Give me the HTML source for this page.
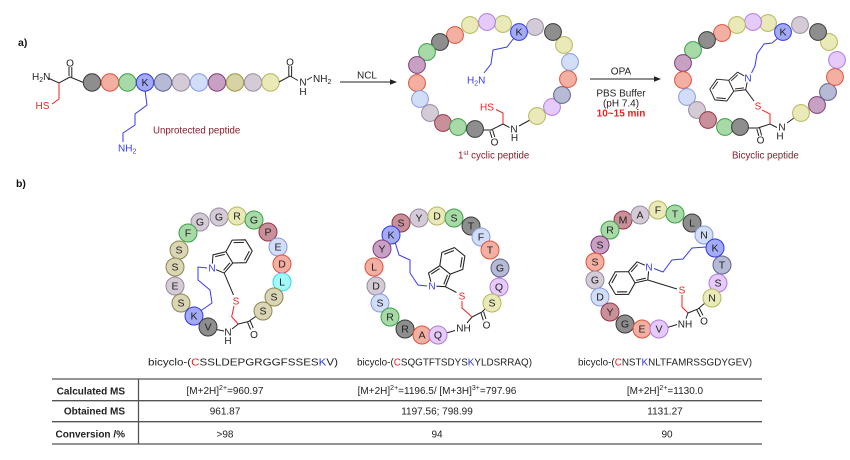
<!DOCTYPE html>
<html><head><meta charset="utf-8">
<style>
html,body{margin:0;padding:0;background:#fff;width:850px;height:460px;overflow:hidden}
svg{display:block}
.gy{fill:#8e8e8e;stroke:#3a3a3a}
.sa{fill:#f3b0a2;stroke:#e0503a}
.gr{fill:#a8daa8;stroke:#3aa046}
.bl{fill:#a3aaf7;stroke:#2d38e6}
.sl{fill:#b6bad5;stroke:#5c628a}
.lv{fill:#d5cbd7;stroke:#978ba2}
.lb{fill:#d2ddf8;stroke:#869ae2}
.pu{fill:#c8a0c3;stroke:#7e3c79}
.mr{fill:#c8909a;stroke:#983444}
.ye{fill:#eaeab8;stroke:#b6b65c}
.kh{fill:#d8d3a4;stroke:#9c963e}
.li{fill:#e6cafa;stroke:#ae7ae6}
.ol{fill:#dad6b5;stroke:#8a864e}
.cy{fill:#a2fafa;stroke:#38d4e2}
circle{stroke-width:1}
.L{font-size:10.5px;text-anchor:middle;fill:#222}
.bk{fill:none;stroke:#222;stroke-width:1}
.rd{fill:none;stroke:#f02020;stroke-width:1}
.bu{fill:none;stroke:#3a3af0;stroke-width:1}
.t{font-size:10px;fill:#222}
</style></head><body>
<svg width="850" height="460" viewBox="0 0 850 460" font-family="Liberation Sans, Arial, sans-serif">
<defs>
<g id="iso">
<path d="M-18.46,-6 L-18.46,6 L-28.85,12 L-39.24,6 L-39.24,-6 L-28.85,-12 Z M-18.46,-6 L-7.05,-9.7 L0,0 L-7.05,9.7 L-18.46,6 M-28.85,9.36 L-36.95,4.68 M-36.95,-4.68 L-28.85,-9.36 M-7.84,-7.28 L-16.4,-4.5 M-7.84,7.28 L-16.4,4.5" fill="none" stroke="#222" stroke-width="0.95"/>
</g>
</defs>

<!-- ========== a) ========== -->
<text x="18" y="46" font-size="10.5" font-weight="bold" fill="#111">a)</text>

<!-- linear peptide -->
<text x="32" y="80" class="t">H<tspan font-size="7" dy="2">2</tspan><tspan dy="-2">N</tspan></text>
<path class="bk" d="M48,78 L59,83 L70,77 M69,76 L69,67 M71.8,77 L71.8,67 M70,77 L83.5,82.5"/>
<text x="70" y="66.5" class="t" text-anchor="middle">O</text>
<path class="rd" d="M59,83 L59,99 L52,104"/>
<text x="35.5" y="109" font-size="10" fill="#f02020">HS</text>

<path class="bu" d="M145,90 L147,105 L135,114 L135,125 L123,133 L123,142"/>
<text x="118" y="151.5" font-size="10" fill="#3a3af0">NH<tspan font-size="7" dy="2">2</tspan></text>

<circle cx="92" cy="82.5" r="8.7" class="gy"/>
<circle cx="110" cy="82.5" r="8.7" class="sa"/>
<circle cx="127.5" cy="82.5" r="8.7" class="gr"/>
<circle cx="145" cy="82.5" r="8.7" class="bl"/>
<text x="145" y="86" class="L" font-size="9.5">K</text>
<circle cx="163" cy="82.5" r="8.7" class="sl"/>
<circle cx="181" cy="82.5" r="8.7" class="lv"/>
<circle cx="199" cy="82.5" r="8.7" class="lb"/>
<circle cx="217" cy="82.5" r="8.7" class="pu"/>
<circle cx="235" cy="82.5" r="8.7" class="kh"/>
<circle cx="253" cy="82.5" r="8.7" class="lv"/>
<circle cx="270.5" cy="82.5" r="8.7" class="ye"/>

<path class="bk" d="M279,82 L290,76 M288.8,76 L288.8,66 M291.6,76.5 L291.6,66 M290,76 L298,80.5 M307,80 L312,77"/>
<text x="290" y="65.5" class="t" text-anchor="middle">O</text>
<text x="303" y="85.5" class="t" text-anchor="middle">N</text>
<text x="303" y="95" class="t" text-anchor="middle">H</text>
<text x="313" y="82" class="t">NH<tspan font-size="7" dy="2">2</tspan></text>

<text x="153" y="133.5" font-size="9.7" fill="#8b1c2c">Unprotected peptide</text>

<!-- arrow NCL -->
<line x1="340" y1="82" x2="392" y2="82" stroke="#222" stroke-width="1"/>
<polygon points="397,82 390,79.3 390,84.7" fill="#222"/>
<text x="367" y="78.5" class="t" text-anchor="middle">NCL</text>

<!-- ring 2 -->
<path class="bu" d="M514,38 L507,47 L493,50 L491,64 L484,73"/>
<text x="467" y="83.5" font-size="10" fill="#3a3af0">H<tspan font-size="7" dy="2">2</tspan><tspan dy="-2">N</tspan></text>
<path class="bk" d="M483,130 L491,130 L503,124 L509.5,127.5 M519,126 L530,120 M489.8,131 L492,138 M492.6,130 L494.8,137"/>
<text x="494.5" y="145.5" class="t" text-anchor="middle">O</text>
<text x="514" y="132.5" class="t" text-anchor="middle">N</text>
<text x="514.5" y="141" class="t" text-anchor="middle">H</text>
<path class="rd" d="M503,124 L503,113 L496,109.5"/>
<text x="487" y="110.5" font-size="10" fill="#f02020" text-anchor="middle">HS</text>

<circle cx="537" cy="116" r="8.4" class="ye"/>
<circle cx="552" cy="107" r="8.4" class="li"/>
<circle cx="562" cy="95" r="8.4" class="sl"/>
<circle cx="568" cy="79" r="8.4" class="sa"/>
<circle cx="570" cy="62" r="8.4" class="lb"/>
<circle cx="564" cy="45" r="8.4" class="ye"/>
<circle cx="553" cy="32" r="8.4" class="gy"/>
<circle cx="535" cy="27" r="8.4" class="lv"/>
<circle cx="503" cy="24" r="8.4" class="ye"/>
<circle cx="487" cy="22" r="8.4" class="li"/>
<circle cx="470" cy="25" r="8.4" class="ye"/>
<circle cx="455" cy="35" r="8.4" class="sa"/>
<circle cx="440" cy="42" r="8.4" class="gy"/>
<circle cx="427" cy="52" r="8.4" class="gr"/>
<circle cx="417" cy="65" r="8.4" class="pu"/>
<circle cx="417" cy="83" r="8.4" class="sa"/>
<circle cx="420" cy="99" r="8.4" class="lb"/>
<circle cx="430" cy="113" r="8.4" class="lv"/>
<circle cx="443" cy="123" r="8.4" class="mr"/>
<circle cx="458" cy="127" r="8.4" class="gr"/>
<circle cx="475" cy="129" r="8.4" class="gy"/>
<circle cx="519" cy="32" r="8.4" class="bl"/>
<text x="519" y="35.5" class="L" font-size="9.5">K</text>

<text x="458" y="158.5" font-size="9.7" fill="#8b1c2c">1<tspan font-size="6.5" dy="-3.5">st</tspan><tspan dy="3.5"> cyclic peptide</tspan></text>

<!-- arrow OPA -->
<line x1="590" y1="79" x2="656" y2="79" stroke="#222" stroke-width="1"/>
<polygon points="661,79 654,76.3 654,81.7" fill="#222"/>
<text x="621" y="74.5" class="t" text-anchor="middle">OPA</text>
<text x="621" y="96.5" class="t" text-anchor="middle">PBS Buffer</text>
<text x="621" y="106.5" class="t" text-anchor="middle">(pH 7.4)</text>
<text x="621" y="116.5" font-size="10" font-weight="bold" fill="#f02020" text-anchor="middle">10~15 min</text>

<!-- ring 3 -->
<use href="#iso" transform="translate(748,78) rotate(-24.8)"/>
<path class="bu" d="M778,38 L772,43 L764,44 L757,54 L755,66 L751.5,73"/>
<circle cx="748" cy="78" r="4.5" fill="#fff"/>
<text x="748" y="81.5" font-size="10" fill="#3a3af0" text-anchor="middle">N</text>
<path class="bk" d="M745.7,89.8 L754,101"/>
<text x="758" y="109.5" font-size="10" fill="#f02020" text-anchor="middle">S</text>
<path class="rd" d="M762,110 L770,114 L770,124"/>
<path class="bk" d="M748,128 L758,128 L770,124 L777,127.5 M787,123 L794,118 M756.8,129 L758.8,136 M759.6,128 L761.6,135.5"/>
<text x="760.5" y="143.5" class="t" text-anchor="middle">O</text>
<text x="782" y="130.5" class="t" text-anchor="middle">N</text>
<text x="780" y="139.5" class="t" text-anchor="middle">H</text>

<circle cx="801" cy="113" r="8.4" class="ye"/>
<circle cx="817" cy="105" r="8.4" class="pu"/>
<circle cx="828" cy="92" r="8.4" class="sl"/>
<circle cx="835" cy="77" r="8.4" class="sa"/>
<circle cx="837" cy="60" r="8.4" class="li"/>
<circle cx="829" cy="42" r="8.4" class="ye"/>
<circle cx="818" cy="32" r="8.4" class="gy"/>
<circle cx="800" cy="25" r="8.4" class="lv"/>
<circle cx="768" cy="23" r="8.4" class="ye"/>
<circle cx="753" cy="22" r="8.4" class="li"/>
<circle cx="737" cy="25" r="8.4" class="ye"/>
<circle cx="722" cy="33" r="8.4" class="sa"/>
<circle cx="707" cy="40" r="8.4" class="gy"/>
<circle cx="693" cy="50" r="8.4" class="gr"/>
<circle cx="683" cy="63" r="8.4" class="pu"/>
<circle cx="683" cy="80" r="8.4" class="sa"/>
<circle cx="687" cy="97" r="8.4" class="lb"/>
<circle cx="697" cy="110" r="8.4" class="lv"/>
<circle cx="708" cy="120" r="8.4" class="mr"/>
<circle cx="725" cy="127" r="8.4" class="gr"/>
<circle cx="740" cy="127" r="8.4" class="gy"/>
<circle cx="783" cy="32" r="8.4" class="bl"/>
<text x="783" y="35.5" class="L" font-size="9.5">K</text>

<text x="732" y="158.5" font-size="9.7" fill="#8b1c2c">Bicyclic peptide</text>

<!-- ========== b) ========== -->
<text x="16" y="187" font-size="10.5" font-weight="bold" fill="#111">b)</text>

<!-- structure 1 -->
<use href="#iso" transform="translate(212,268) rotate(148.5) scale(1.1,-1.1)"/>
<path class="bu" d="M199,312 L212,303 L210,290 L198,280 L198,267 L207,268"/>
<circle cx="212" cy="268" r="4.5" fill="#fff"/>
<text x="212" y="271.5" font-size="10" fill="#3a3af0" text-anchor="middle">N</text>
<path class="bk" d="M224.2,273.1 L233.5,295"/>
<text x="236" y="304.5" font-size="10" fill="#f02020" text-anchor="middle">S</text>
<path class="rd" d="M234,306 L231.7,316.7 L238.3,324"/>
<path class="bk" d="M216.5,329.5 L224,331 M238.3,324 L232,329 M238.3,324 L248.5,321.5 L256.5,316 M247.6,322.4 L250.6,329.5 M250.2,320.8 L253.2,328"/>
<text x="228" y="335.5" class="t" text-anchor="middle">N</text>
<text x="228" y="344" class="t" text-anchor="middle">H</text>
<text x="254" y="338" class="t" text-anchor="middle">O</text>

<circle cx="200" cy="222" r="9" class="lv"/><text x="200" y="225.7" class="L">G</text>
<circle cx="219" cy="217" r="9" class="lv"/><text x="219" y="220.7" class="L">G</text>
<circle cx="237" cy="216" r="9" class="ye"/><text x="237" y="219.7" class="L">R</text>
<circle cx="254" cy="220" r="9" class="gr"/><text x="254" y="223.7" class="L">G</text>
<circle cx="268" cy="232" r="9" class="mr"/><text x="268" y="235.7" class="L">P</text>
<circle cx="278" cy="247" r="9" class="lb"/><text x="278" y="250.7" class="L">E</text>
<circle cx="282" cy="264" r="9" class="sa"/><text x="282" y="267.7" class="L">D</text>
<circle cx="282" cy="282" r="9" class="cy"/><text x="282" y="285.7" class="L">L</text>
<circle cx="274" cy="297" r="9" class="ol"/><text x="274" y="300.7" class="L">S</text>
<circle cx="263" cy="311" r="9" class="ol"/><text x="263" y="314.7" class="L">S</text>
<circle cx="188" cy="233" r="9" class="gr"/><text x="188" y="236.7" class="L">F</text>
<circle cx="179" cy="250" r="9" class="ol"/><text x="179" y="253.7" class="L">S</text>
<circle cx="175" cy="267" r="9" class="ol"/><text x="175" y="270.7" class="L">S</text>
<circle cx="175" cy="286" r="9" class="lv"/><text x="175" y="289.7" class="L">E</text>
<circle cx="181" cy="303" r="9" class="ol"/><text x="181" y="306.7" class="L">S</text>
<circle cx="194" cy="316" r="9" class="bl"/><text x="194" y="319.7" class="L">K</text>
<circle cx="208" cy="327" r="9" class="gy"/><text x="208" y="330.7" class="L">V</text>

<text x="148" y="365.5" font-size="10.5" textLength="190" lengthAdjust="spacingAndGlyphs" fill="#222">bicyclo-(<tspan fill="#f02020">C</tspan>SSLDEPGRGGFSSES<tspan fill="#2d38e6">K</tspan>V)</text>

<!-- structure 2 -->
<use href="#iso" transform="translate(432,286) rotate(129) scale(1.12,-1.12)"/>
<path class="bu" d="M395,242 L399,255 L410,260 L410,273 L418,285 L427,286"/>
<circle cx="432" cy="286" r="4.5" fill="#fff"/>
<text x="432" y="289.5" font-size="10" fill="#3a3af0" text-anchor="middle">N</text>
<path class="bk" d="M445.4,286.7 L456.5,292.5"/>
<text x="462" y="299.5" font-size="10" fill="#f02020" text-anchor="middle">S</text>
<path class="rd" d="M462,301 L462,308 L471.5,316.5"/>
<path class="bk" d="M446.5,333 L455,330.5 M472,317 L467,323 M472,317 L482,312 L486.5,307.5 M481,313 L483.3,320.3 M483.6,311.6 L485.9,319"/>
<text x="463.5" y="331.5" class="t" text-anchor="middle">NH</text>
<text x="486.5" y="328.5" class="t" text-anchor="middle">O</text>

<circle cx="401" cy="223" r="9" class="mr"/><text x="401" y="226.7" class="L">S</text>
<circle cx="419" cy="218" r="9" class="lv"/><text x="419" y="221.7" class="L">Y</text>
<circle cx="437" cy="216" r="9" class="ye"/><text x="437" y="219.7" class="L">D</text>
<circle cx="454" cy="218" r="9" class="gr"/><text x="454" y="221.7" class="L">S</text>
<circle cx="471" cy="226" r="9" class="gy"/><text x="471" y="229.7" class="L">T</text>
<circle cx="481" cy="237" r="9" class="lb"/><text x="481" y="240.7" class="L">F</text>
<circle cx="490" cy="250" r="9" class="sa"/><text x="490" y="253.7" class="L">T</text>
<circle cx="500" cy="268" r="9" class="sl"/><text x="500" y="271.7" class="L">G</text>
<circle cx="499" cy="287" r="9" class="li"/><text x="499" y="290.7" class="L">Q</text>
<circle cx="492" cy="303" r="9" class="ye"/><text x="492" y="306.7" class="L">S</text>
<circle cx="391" cy="235" r="9" class="bl"/><text x="391" y="238.7" class="L">K</text>
<circle cx="382" cy="249" r="9" class="pu"/><text x="382" y="252.7" class="L">Y</text>
<circle cx="374" cy="267" r="9" class="sa"/><text x="374" y="270.7" class="L">L</text>
<circle cx="376" cy="286" r="9" class="lv"/><text x="376" y="289.7" class="L">D</text>
<circle cx="380" cy="303" r="9" class="lb"/><text x="380" y="306.7" class="L">S</text>
<circle cx="390" cy="317" r="9" class="gr"/><text x="390" y="320.7" class="L">R</text>
<circle cx="405" cy="329" r="9" class="gy"/><text x="405" y="332.7" class="L">R</text>
<circle cx="422" cy="335" r="9" class="sa"/><text x="422" y="338.7" class="L">A</text>
<circle cx="438" cy="335" r="9" class="li"/><text x="438" y="338.7" class="L">Q</text>

<text x="357" y="365.5" font-size="10.5" textLength="175" lengthAdjust="spacingAndGlyphs" fill="#222">bicyclo-(<tspan fill="#f02020">C</tspan>SQGTFTSDYS<tspan fill="#2d38e6">K</tspan>YLDSRRAQ)</text>

<!-- structure 3 -->
<use href="#iso" transform="translate(649,267) rotate(-30.7) scale(1.09)"/>
<path class="bu" d="M654,268.5 L663,272 L672,260 L683,259 L692,248 L706,247"/>
<circle cx="649" cy="267" r="4.5" fill="#fff"/>
<text x="649" y="270.5" font-size="10" fill="#3a3af0" text-anchor="middle">N</text>
<path class="bk" d="M647.8,280 L677,289"/>
<text x="682" y="293.5" font-size="10" fill="#f02020" text-anchor="middle">S</text>
<path class="rd" d="M682,295 L682,307 L688,313"/>
<path class="bk" d="M667.5,327.5 L677,324.5 M688,313 L686,318.5 M688,313 L698,309 L705,303 M696.8,310 L700.5,317 M699.4,308.4 L703,315.4"/>
<text x="685" y="327.5" class="t" text-anchor="middle">NH</text>
<text x="704" y="324.5" class="t" text-anchor="middle">O</text>

<circle cx="623" cy="220" r="9" class="mr"/><text x="623" y="223.7" class="L">M</text>
<circle cx="640" cy="215" r="9" class="lv"/><text x="640" y="218.7" class="L">A</text>
<circle cx="658" cy="210" r="9" class="ye"/><text x="658" y="213.7" class="L">F</text>
<circle cx="675" cy="214" r="9" class="gr"/><text x="675" y="217.7" class="L">T</text>
<circle cx="692" cy="223" r="9" class="gy"/><text x="692" y="226.7" class="L">L</text>
<circle cx="704" cy="235" r="9" class="lb"/><text x="704" y="238.7" class="L">N</text>
<circle cx="715" cy="248" r="9" class="bl"/><text x="715" y="251.7" class="L">K</text>
<circle cx="722" cy="265" r="9" class="sl"/><text x="722" y="268.7" class="L">T</text>
<circle cx="718" cy="283" r="9" class="li"/><text x="718" y="286.7" class="L">S</text>
<circle cx="712" cy="298" r="9" class="ye"/><text x="712" y="301.7" class="L">N</text>
<circle cx="610" cy="230" r="9" class="gr"/><text x="610" y="233.7" class="L">R</text>
<circle cx="600" cy="245" r="9" class="pu"/><text x="600" y="248.7" class="L">S</text>
<circle cx="595" cy="262" r="9" class="sa"/><text x="595" y="265.7" class="L">S</text>
<circle cx="595" cy="280" r="9" class="lv"/><text x="595" y="283.7" class="L">G</text>
<circle cx="600" cy="297" r="9" class="lb"/><text x="600" y="300.7" class="L">D</text>
<circle cx="610" cy="312" r="9" class="mr"/><text x="610" y="315.7" class="L">Y</text>
<circle cx="625" cy="324" r="9" class="gy"/><text x="625" y="327.7" class="L">G</text>
<circle cx="642" cy="329" r="9" class="sa"/><text x="642" y="332.7" class="L">E</text>
<circle cx="659" cy="329" r="9" class="li"/><text x="659" y="332.7" class="L">V</text>

<text x="578" y="365.5" font-size="10.5" textLength="174" lengthAdjust="spacingAndGlyphs" fill="#222">bicyclo-(<tspan fill="#f02020">C</tspan>NST<tspan fill="#2d38e6">K</tspan>NLTFAMRSSGDYGEV)</text>

<!-- table -->
<g stroke="#555" stroke-width="1.3">
<line x1="52" y1="379" x2="762" y2="379"/>
<line x1="52" y1="400.7" x2="762" y2="400.7"/>
<line x1="52" y1="421.7" x2="762" y2="421.7"/>
<line x1="52" y1="444" x2="762" y2="444"/>
<line x1="138.5" y1="379" x2="138.5" y2="444"/>
</g>
<g font-size="10" font-weight="bold" fill="#222" text-anchor="end">
<text x="125" y="394.5">Calculated MS</text>
<text x="125" y="414.5">Obtained MS</text>
<text x="125" y="437.5">Conversion /%</text>
</g>
<g font-size="10" fill="#222" text-anchor="middle">
<text x="225" y="394">[M+2H]<tspan font-size="7" dy="-4">2+</tspan><tspan dy="4">=960.97</tspan></text>
<text x="437" y="394">[M+2H]<tspan font-size="7" dy="-4">2+</tspan><tspan dy="4">=1196.5/ [M+3H]</tspan><tspan font-size="7" dy="-4">3+</tspan><tspan dy="4">=797.96</tspan></text>
<text x="665" y="394">[M+2H]<tspan font-size="7" dy="-4">2+</tspan><tspan dy="4">=1130.0</tspan></text>
<text x="225" y="414.5">961.87</text>
<text x="437" y="414.5">1197.56; 798.99</text>
<text x="665" y="414.5">1131.27</text>
<text x="225" y="437.5">&gt;98</text>
<text x="437" y="437.5">94</text>
<text x="667" y="437.5">90</text>
</g>
</svg>
</body></html>
